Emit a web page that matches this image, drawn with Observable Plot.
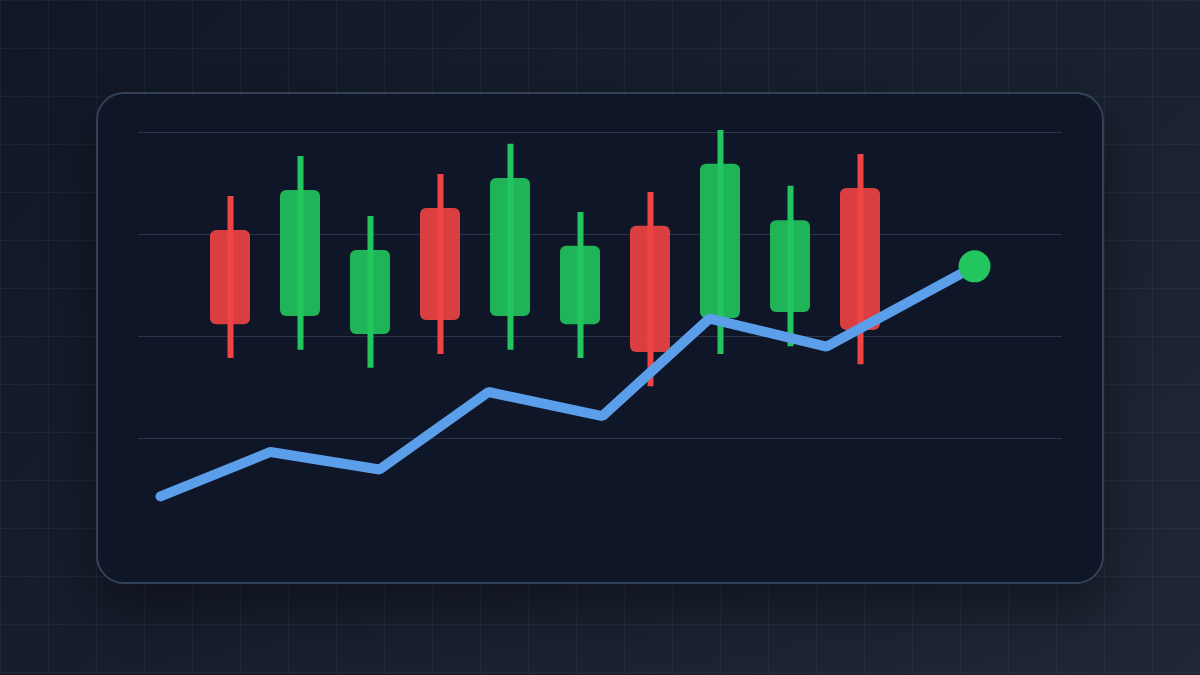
<!DOCTYPE html>
<html>
<head>
<meta charset="utf-8">
<script src="https://cdn.jsdelivr.net/npm/d3@7"></script>
<script src="https://cdn.jsdelivr.net/npm/@observablehq/plot@0.6"></script>
<style>
  html, body { margin: 0; padding: 0; background: #151c2a; }
  #stage {
    position: relative; width: 1200px; height: 675px; overflow: hidden;
    background: linear-gradient(135deg, #111726 0%, #171e2c 45%, #1f2735 100%);
    font-family: Inter, "Noto Sans", sans-serif;
  }
  #grid {
    position: absolute; inset: 0;
    background-image:
      linear-gradient(to right, rgba(148,163,184,0.07) 1px, transparent 1px),
      linear-gradient(to bottom, rgba(148,163,184,0.07) 1px, transparent 1px);
    background-size: 48px 48px;
  }
  #panel {
    position: absolute; left: 96px; top: 92px; width: 1004px; height: 488px;
    background: #0e1628; border: 2px solid #334158; border-radius: 28px;
    box-shadow: 0 24px 48px rgba(0,0,0,0.35);
  }
  #chart { position: absolute; left: 0; top: 0; }
  #chart svg { background: transparent; }
</style>
</head>
<body>
<div id="stage">
  <div id="grid"></div>
  <div id="panel"></div>
  <div id="chart"></div>
</div>
<script>
// Candles: index position, open, close, high, low
const candleT     = [0, 1, 2, 3, 4, 5, 6, 7, 8, 9];
const candleOpen  = [76.0, 54.9, 50.5, 81.4, 54.9, 52.9, 77.0, 54.4, 55.9, 86.3];
const candleClose = [52.9, 85.8, 71.1, 53.9, 88.7, 72.1, 46.1, 92.2, 78.4, 51.5];
const candleHigh  = [84.3, 94.1, 79.4, 89.7, 97.1, 80.4, 85.3, 100.5, 86.8, 94.6];
const candleLow   = [44.6, 46.6, 42.2, 45.6, 46.6, 44.6, 37.7, 45.6, 47.5, 43.1];

// Trend line
const lineT = [-1, 0.571, 2.129, 3.686, 5.314, 6.843, 8.514, 10.629];
const lineV = [10.8, 21.7, 17.4, 36.4, 30.5, 54.4, 47.5, 67.2];

// Gridline values
const gridValues = [25, 50, 75, 100];

const UP = "#22c55e", DOWN = "#ef4444";

const candles = candleT.map((t, i) => ({
  t, open: candleOpen[i], close: candleClose[i], high: candleHigh[i], low: candleLow[i],
  color: candleClose[i] >= candleOpen[i] ? UP : DOWN
}));
const line = lineT.map((t, i) => ({ t, v: lineV[i] }));
const last = [line[line.length - 1]];

const chart = Plot.plot({
  width: 1200, height: 675,
  marginLeft: 138, marginRight: 138, marginTop: 132, marginBottom: 135,
  x: { domain: [-92 / 70, 832 / 70], axis: null },
  y: { domain: [0, 100], axis: null },
  style: { background: "transparent" },
  marks: [
    Plot.ruleY(gridValues, { stroke: "#2a3446", strokeWidth: 1 }),
    Plot.rect(candles, {
      x1: d => d.t - 0.5, x2: d => d.t + 0.5,
      y1: "open", y2: "close",
      insetLeft: 15, insetRight: 15,
      fill: "color", fillOpacity: 0.9, rx: 6
    }),
    Plot.ruleX(candles, {
      x: "t", y1: "low", y2: "high",
      stroke: "color", strokeWidth: 6
    }),
    Plot.line(line, {
      x: "t", y: "v", stroke: "#5b9ee9", strokeWidth: 10,
      strokeLinecap: "round", strokeLinejoin: "miter"
    }),
    Plot.dot(last, { x: "t", y: "v", r: 16, fill: UP, stroke: "none" })
  ]
});
document.getElementById("chart").appendChild(chart);
</script>
</body>
</html>
